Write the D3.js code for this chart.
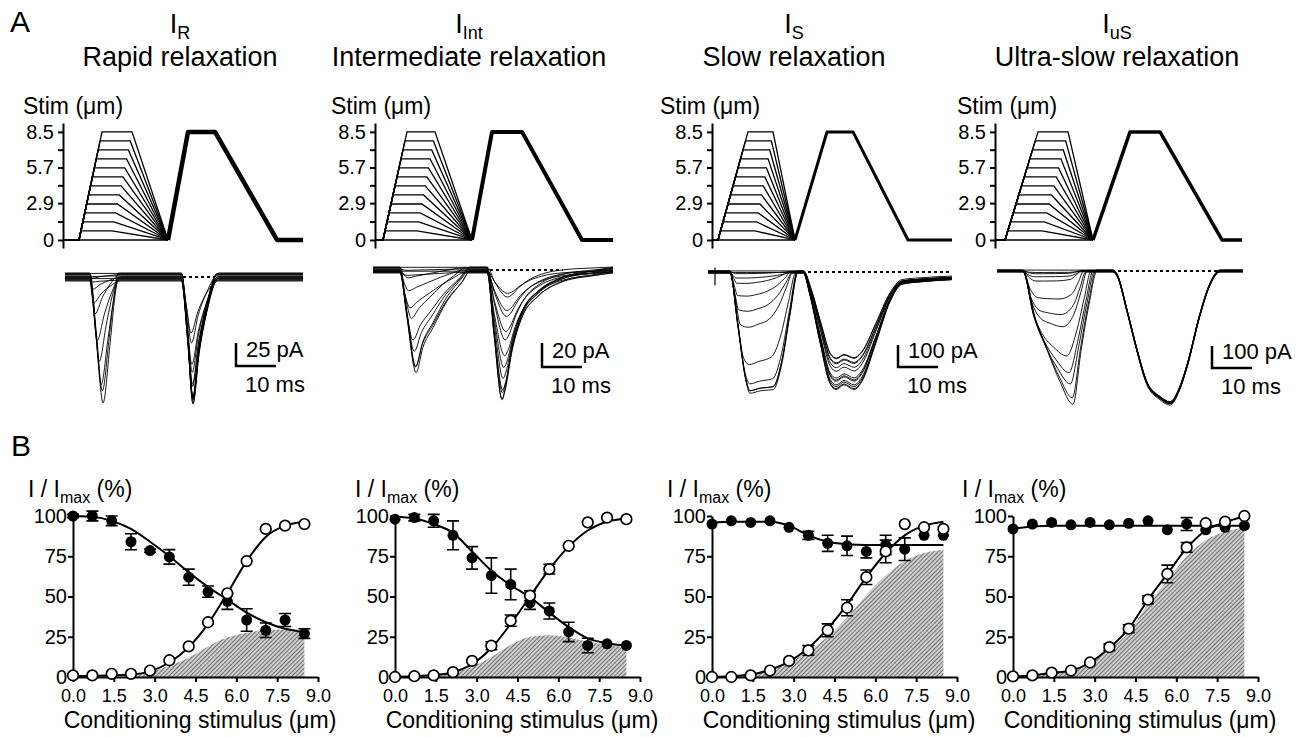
<!DOCTYPE html>
<html><head><meta charset="utf-8">
<script src="https://cdn.jsdelivr.net/npm/d3@7"></script>
<style>
body{margin:0;background:#fff}
svg{display:block}
text{font-family:"Liberation Sans",Arial,Helvetica,sans-serif;fill:#000}
</style>
</head><body>
<svg id="c" width="1303" height="737"></svg>
<script>
// ---------------- DATA ----------------
const stimLevels = [0,0.71,1.42,2.13,2.83,3.54,4.25,4.96,5.67,6.38,7.08,7.79,8.5];
const stimTickValues = [0,1.45,2.9,4.3,5.7,7.1,8.5];
const stimTickLabels = ["0","","2.9","","5.7","","8.5"];
const xTickValues = [0,1.5,3,4.5,6,7.5,9];
const yTickValues = [0,25,50,75,100];
const titles = ["Rapid relaxation","Intermediate relaxation","Slow relaxation","Ultra-slow relaxation"];
const titleSubs = ["R","Int","S","uS"];
const scaleBarPA = [25,20,100,100];
const scaleBarMS = [10,10,10,10];
const traceOffsets = [-0.9,0.4,-0.3,0.8,-0.6,0.1,1,-0.7,0.5,-0.1,0.7,-1,0.2];

// stimulus timing (ms): onset, reach 8.5, plateau end (lowest), plateau end (8.5), back to 0, test at 8.5, test plateau end, test at 0, end
const stimTiming_R   = [4, 9.75, 12.25, 17.25, 26.25, 31.25, 38, 53.5, 60];
const stimTiming_Int = [2, 8, 10.5, 15, 24.25, 29.25, 36.75, 51.75, 59.5];
const stimTiming_S   = [1.5, 9, 10.75, 15.25, 20.75, 28.75, 35.25, 49, 60];
const stimTiming_uS  = [2.5, 10.75, 11.75, 18.25, 24.5, 33.75, 41.25, 56.75, 61.75];

// current traces: peak amplitudes (pA) of conditioning (1) and test (2) responses
const amp1_R   = [0,0,1,2,4,13,24,43,67,92,114,128,136];
const amp2_R   = [136,136,135,134,133,130,127,122,114,104,92,76,60];
const amp1_Int = [0,0,1,2.5,8,17,29,42,57,68,79,83,85];
const amp2_Int = [110,107,103,98,92,81,69,60,50,39,32,25,19];
const amp1_S   = [0,0,9,23,55,109,173,255,418,509,536,545,550];
const amp2_S   = [535,532,523,509,500,491,477,455,432,418,409,400,390];
const amp1_uS  = [0,5,14,23,50,132,200,264,391,468,514,582,605];
const amp2_uS  = [600,598,605,600,603,598,605,600,595,602,596,598,600];

// response shapes [ms, fraction of peak] for small and large responses
const resp1Small_R = [[6.75,0],[6.9,0.5],[7.1,1],[9,0.6],[11.5,0.25],[14.5,0]];
const resp1Large_R = [[6.75,0],[8.4,0.5],[10,1],[11.7,0.55],[12.8,0.2],[13.8,0]];
const resp2Small_R = [[29.6,0],[30.5,0.5],[31.6,1],[33.5,0.62],[36.5,0.22],[39.8,0]];
const resp2Large_R = [[29.6,0],[31.2,0.5],[32.5,1],[34,0.6],[36,0.25],[38.5,0]];

const resp1Small_Int = [[6.25,0],[7,0.6],[8,1],[10,0.85],[13,0.6],[16,0.35],[19,0.12],[21,0]];
const resp1Large_Int = [[6.25,0],[8,0.45],[10.25,1],[12,0.75],[14.5,0.56],[18,0.3],[22,0.1],[23.75,0]];
const resp2Small_Int = [[28,0],[30,0.5],[33.5,1],[34.5,0.95],[36.5,0.7],[39,0.45],[42,0.25],[47,0.1],[55,0.03],[59.5,0]];
const resp2Large_Int = [[28,0],[29.75,0.5],[31.75,1],[32.3,0.95],[34.25,0.61],[36.75,0.35],[40.5,0.2],[47,0.076],[55,0.025],[59.5,0]];

const resp1Small_S = [[4.5,0],[5.2,0.5],[5.9,1],[8.7,1],[11,0.92],[13.5,0.75],[16,0.5],[18,0.2],[19.2,0]];
const resp1Large_S = [[4.5,0],[6.5,0.45],[8.5,0.9],[9.5,1],[12,0.98],[15.3,0.97],[17.5,0.75],[19.5,0.35],[21.5,0]];
const resp2Small_S = [[23.5,0],[25.5,0.2],[28,0.6],[30,0.95],[31.5,1],[33,0.95],[35.5,0.98],[37.5,0.9],[41,0.58],[44.5,0.25],[47.5,0.1],[52,0.08],[60,0.06]];
const resp2Large_S = [[22.75,0],[24.5,0.2],[27,0.6],[29.5,0.95],[31,1],[33,0.96],[35.5,1],[37.5,0.93],[41,0.6],[44.5,0.25],[47.5,0.1],[52,0.08],[60,0.06]];
// stimulus artifact on the slow-relaxation traces: [ms, pA top, pA bottom]
const artifact_S = [0.75, 20, -60];

const resp1Small_uS = [[7,0],[8.5,0.7],[10,1],[12,0.98],[15,0.95],[18.5,0.85],[20,0.45],[21.25,0]];
const resp1Large_uS = [[7,0],[10,0.35],[13,0.59],[16.25,0.83],[19.5,1],[21.5,0.6],[23.5,0.25],[25.5,0]];
const resp2Small_uS = [[29.5,0],[30.5,0.03],[33,0.3],[35.5,0.6],[38,0.85],[41.25,0.96],[43.75,1],[46,0.9],[47.5,0.72],[50.5,0.33],[53,0.1],[55.5,0]];
const resp2Large_uS = [[29.5,0],[30.5,0.03],[33,0.3],[35.5,0.6],[38,0.85],[41.25,0.96],[43.75,1],[46,0.9],[48,0.72],[51.25,0.33],[53.75,0.1],[56.25,0]];

// zero-current dashed reference (ms)
const dashed_R = [30,38], dashed_Int = [28.75,47], dashed_S = [22.5,59.5], dashed_uS = [29.25,55.75];
const traceSpan_R = [0.5,60], traceSpan_Int = [-0.5,59.5], traceSpan_S = [-1,60], traceSpan_uS = [0.5,62];

// panel B: I/Imax (%) at each conditioning stimulus
const filled_R    = [100,100,97,84,78.5,74.6,62,53,47,35.4,29,35.4,27];
const filledErr_R = [1,3,3,5,1,4.5,5,3.5,5,7,4.5,4,3];
const open_R      = [1,1,2,2,4,10.4,19,34,52,72,92,94,95];
const openErr_R   = [0,0,0,0,0,0,0,0,0,0,0,0,0];
const filledFit_R = [100,99.5,97,92,84,75,65,56,48,40,34,30,28];
const openFit_R   = [0.5,0.7,1,1.5,3.5,9,18.5,33,52,72,87,94,96.5];
const hatch_R     = [0,0.3,0.6,1,3,7,12,19,24.5,27.5,29,29.5,27];

const filled_Int    = [98,99,97,88,74,63,57.5,46,41,28,19.6,20.6,19.6];
const filledErr_Int = [0,2,4,9,7,11,9.5,4,5,6,4.5,0,0];
const open_Int      = [0,0.5,1,3,10,19.4,35,50.5,67,81.5,96,99,98];
const openErr_Int   = [0,0,0,0,0,2.5,3.5,3,3,0,0,0,0];
const filledFit_Int = [99.5,98.5,95,89.5,78,66,57,49.5,40,31,24,21,19.5];
const openFit_Int   = [0.2,0.5,1.2,3,8,18,33,50,67,81,91,96.5,98.5];
const hatch_Int     = [0,0.4,1,2.5,6.5,12.5,20,25,26,24.5,22,20,18.5];

const filled_S    = [95,97,96,97,93,88,83,81.5,78,82,79.4,88,88];
const filledErr_S = [0,0,0,0,0,2.5,5,6,4,6,7,0,0];
const open_S      = [0,0,1,4,10,16.5,29,43,62,78,95,93,92];
const openErr_S   = [0,0,0,0,0,3,4,5,4.5,7,0,0,0];
const filledFit_S = [96,96.5,96.5,96.5,94,88,84,82.5,82,82,82,82,82];
const openFit_S   = [0.2,0.5,1.5,4.5,9.5,18,30,45,62,77,88,94,96.5];
const hatch_S     = [0,0.4,1.5,4.5,9,16,25,37,51,63,72,77,79];

const filled_uS    = [92,95,96,94.5,96,94.5,95.5,97,91.4,95,91.4,93,94];
const filledErr_uS = [0,0,0,0,0,0,0,0,0,4,0,0,0];
const open_uS      = [0.4,1,2.7,4,9,18.5,30,48,64,80.5,95.5,96.5,100];
const openErr_uS   = [0,0,0,0,0,2,2.5,2.5,5.5,3,0,0,0];
const filledFit_uS = [92,93.5,94,94,94,94,94,94,94,94,94,94,94];
const openFit_uS   = [0.5,1,2.5,4,9,18,30,48,64,80,91,96,100];
const hatch_uS     = [0.5,1,2.3,3.8,8.5,17,28,45,60,75,85,90,93];

// ---------------- LAYOUT ----------------
const panels = [
 {stim:stimTiming_R, a1:amp1_R, a2:amp2_R, r1s:resp1Small_R, r1l:resp1Large_R, r2s:resp2Small_R, r2l:resp2Large_R, dash:dashed_R, span:traceSpan_R, art:null,
  f:filled_R, fe:filledErr_R, o:open_R, oe:openErr_R, ff:filledFit_R, of:openFit_R, h:hatch_R},
 {stim:stimTiming_Int, a1:amp1_Int, a2:amp2_Int, r1s:resp1Small_Int, r1l:resp1Large_Int, r2s:resp2Small_Int, r2l:resp2Large_Int, dash:dashed_Int, span:traceSpan_Int, art:null,
  f:filled_Int, fe:filledErr_Int, o:open_Int, oe:openErr_Int, ff:filledFit_Int, of:openFit_Int, h:hatch_Int},
 {stim:stimTiming_S, a1:amp1_S, a2:amp2_S, r1s:resp1Small_S, r1l:resp1Large_S, r2s:resp2Small_S, r2l:resp2Large_S, dash:dashed_S, span:traceSpan_S, art:artifact_S,
  f:filled_S, fe:filledErr_S, o:open_S, oe:openErr_S, ff:filledFit_S, of:openFit_S, h:hatch_S},
 {stim:stimTiming_uS, a1:amp1_uS, a2:amp2_uS, r1s:resp1Small_uS, r1l:resp1Large_uS, r2s:resp2Small_uS, r2l:resp2Large_uS, dash:dashed_uS, span:traceSpan_uS, art:null,
  f:filled_uS, fe:filledErr_uS, o:open_uS, oe:openErr_uS, ff:filledFit_uS, of:openFit_uS, h:hatch_uS}
];
const layout = [
 {ax:63,  stimLab:23,  tx:180,  base:277, ppa:0.92, sbT:43.25, sbY:366, yLab:28,  bx0:73,   jit:4,   testW:4.5},
 {ax:375, stimLab:331, tx:469,  base:270, ppa:1.2,  sbT:41.75, sbY:367, yLab:355, bx0:395,  jit:3,   testW:4},
 {ax:712, stimLab:660, tx:794,  base:272, ppa:0.22, sbT:46.5,  sbY:367, yLab:667, bx0:712,  jit:1.2, testW:3},
 {ax:995, stimLab:957, tx:1117, base:271, ppa:0.22, sbT:54.25, sbY:368, yLab:962, bx0:1013, jit:1,   testW:3.5}
];

const svg = d3.select("#c");
const defs = svg.append("defs");
const pat = defs.append("pattern").attr("id","hatch").attr("patternUnits","userSpaceOnUse")
  .attr("width",3).attr("height",3).attr("patternTransform","rotate(45)");
pat.append("rect").attr("width",3).attr("height",3).attr("fill","#d2d2d2");
pat.append("line").attr("x1",0.5).attr("y1",0).attr("x2",0.5).attr("y2",3).attr("stroke","#6e6e6e").attr("stroke-width",1.1);

svg.append("text").attr("x",10).attr("y",32).attr("font-size",30).text("A");
svg.append("text").attr("x",11).attr("y",456).attr("font-size",30).text("B");

function styleAxis(g, fs){
  g.selectAll(".domain").attr("stroke","#000").attr("stroke-width",2);
  g.selectAll(".tick line").attr("stroke","#000").attr("stroke-width",2);
  g.selectAll(".tick text").attr("font-size",fs).attr("fill","#000")
    .style("font-family",'"Liberation Sans",Arial,sans-serif');
}

function lerpTpl(s, l, f){
  return s.map((p,i)=>[p[0]+(l[i][0]-p[0])*f, p[1]+(l[i][1]-p[1])*f]);
}

panels.forEach((P, i) => {
  const L = layout[i];
  const g = svg.append("g");
  // titles
  const t1 = g.append("text").attr("x",L.tx).attr("y",33).attr("text-anchor","middle").attr("font-size",27);
  t1.append("tspan").text("I");
  t1.append("tspan").attr("dy",6).attr("font-size",18).text(titleSubs[i]);
  g.append("text").attr("x",L.tx).attr("y",66).attr("text-anchor","middle").attr("font-size",27).text(titles[i]);
  g.append("text").attr("x",L.stimLab).attr("y",114).attr("font-size",23).text("Stim (μm)");

  // time scale (ms), shared by stimulus & current
  const x = d3.scaleLinear().domain([0,60]).range([L.ax, L.ax+240]);
  const ys = d3.scaleLinear().domain([-0.63,9.2]).range([248,123]);
  const axS = g.append("g").attr("transform",`translate(${L.ax},0)`)
    .call(d3.axisLeft(ys).tickValues(stimTickValues).tickSize(5).tickSizeOuter(0)
      .tickFormat((d,k)=>stimTickLabels[k]));
  styleAxis(axS, 20);
  axS.selectAll(".tick text").attr("dx",-1);

  const T = P.stim;
  const sline = d3.line().x(d=>x(d[0])).y(d=>ys(d[1]));
  stimLevels.forEach((lv, k) => {
    let pts;
    if (k === 0) pts = [[0,0],[T[4],0]];
    else {
      const rise = T[0] + (T[1]-T[0]) * lv/8.5;
      const pe = T[2] + (T[3]-T[2]) * (k-1)/11;
      pts = [[0,0],[T[0],0],[rise,lv],[pe,lv],[T[4],0]];
    }
    g.append("path").attr("d",sline(pts)).attr("fill","none").attr("stroke","#000").attr("stroke-width",1.3);
  });
  g.append("path").attr("d",sline([[T[4],0],[T[5],8.5],[T[6],8.5],[T[7],0],[T[8],0]]))
    .attr("fill","none").attr("stroke","#000").attr("stroke-width",L.testW).attr("stroke-linejoin","round");

  // current traces
  const yc = d3.scaleLinear().domain([0,-100]).range([L.base, L.base + 100*L.ppa]);
  const cline = d3.line().x(d=>x(d[0])).y(d=>d[1]).curve(d3.curveMonotoneX);
  const m1 = d3.max(P.a1), m2 = d3.max(P.a2);
  P.a1.forEach((a1, k) => {
    const a2 = P.a2[k];
    const off = traceOffsets[k]*L.jit;
    const r1 = lerpTpl(P.r1s, P.r1l, a1/m1);
    const r2 = lerpTpl(P.r2s, P.r2l, a2/m2);
    const pts = [[P.span[0], yc(0)+off]];
    r1.forEach(p => pts.push([p[0], yc(-a1*p[1])+off]));
    r2.forEach(p => pts.push([p[0], yc(-a2*p[1])+off]));
    const last = r2[r2.length-1];
    if (P.span[1] > last[0]) pts.push([P.span[1], yc(-a2*last[1])+off]);
    g.append("path").attr("d",cline(pts)).attr("fill","none").attr("stroke","#000").attr("stroke-width",0.9);
  });
  if (P.art) {
    g.append("line").attr("x1",x(P.art[0])).attr("x2",x(P.art[0])).attr("y1",yc(P.art[1])).attr("y2",yc(P.art[2]))
      .attr("stroke","#000").attr("stroke-width",1.2);
  }
  g.append("line").attr("x1",x(P.dash[0])).attr("x2",x(P.dash[1])).attr("y1",yc(0)).attr("y2",yc(0))
    .attr("stroke","#000").attr("stroke-width",2).attr("stroke-dasharray","3,3");

  // scale bar
  const sbx = x(L.sbT);
  const sbTop = L.sbY - scaleBarPA[i]*L.ppa;
  g.append("path").attr("d",`M${sbx},${sbTop}V${L.sbY}H${x(L.sbT+scaleBarMS[i])}`)
    .attr("fill","none").attr("stroke","#000").attr("stroke-width",2.5);
  g.append("text").attr("x",sbx+10).attr("y",L.sbY-9).attr("font-size",22).text(scaleBarPA[i]+" pA");
  g.append("text").attr("x",sbx+9).attr("y",L.sbY+26).attr("font-size",22).text(scaleBarMS[i]+" ms");

  // ---------- Panel B ----------
  const bx = d3.scaleLinear().domain([0,9]).range([L.bx0, L.bx0+245]);
  const by = d3.scaleLinear().domain([0,100]).range([677,516]);
  const gb = svg.append("g");
  const yl = gb.append("text").attr("x",L.yLab).attr("y",497).attr("font-size",23);
  yl.append("tspan").text("I / I");
  yl.append("tspan").attr("dy",6).attr("font-size",16).text("max");
  yl.append("tspan").attr("dy",-6).text(" (%)");

  gb.append("path").datum(P.h.map((v,k)=>[stimLevels[k],v]))
    .attr("d", d3.area().x(d=>bx(d[0])).y0(by(0)).y1(d=>by(d[1])).curve(d3.curveMonotoneX))
    .attr("fill","url(#hatch)");

  const axY = gb.append("g").attr("transform",`translate(${L.bx0},0)`)
    .call(d3.axisLeft(by).tickValues(yTickValues).tickSize(5).tickSizeOuter(0));
  styleAxis(axY, 20);
  axY.selectAll(".tick text").attr("dx",2);
  const axX = gb.append("g").attr("transform",`translate(0,${by(0)})`)
    .call(d3.axisBottom(bx).tickValues(xTickValues).tickSize(5).tickSizeOuter(0).tickFormat(d3.format(".1f")));
  styleAxis(axX, 18);
  axX.selectAll(".tick text").attr("dy","0.95em");
  gb.append("text").attr("x",L.bx0+127).attr("y",728).attr("text-anchor","middle").attr("font-size",23)
    .text("Conditioning stimulus (μm)");

  const fl = d3.line().x((d,k)=>bx(stimLevels[k])).y(d=>by(d)).curve(d3.curveMonotoneX);
  gb.append("path").attr("d",fl(P.ff)).attr("fill","none").attr("stroke","#000").attr("stroke-width",2);
  gb.append("path").attr("d",fl(P.of)).attr("fill","none").attr("stroke","#000").attr("stroke-width",2);

  const eb = (vals, errs) => vals.forEach((v,k) => {
    const e = errs[k]; if (!e) return;
    const cx = bx(stimLevels[k]);
    gb.append("path").attr("d",`M${cx},${by(v-e)}V${by(v+e)}M${cx-6},${by(v-e)}H${cx+6}M${cx-6},${by(v+e)}H${cx+6}`)
      .attr("fill","none").attr("stroke","#000").attr("stroke-width",1.6);
  });
  eb(P.f, P.fe); eb(P.o, P.oe);
  P.f.forEach((v,k)=>gb.append("circle").attr("cx",bx(stimLevels[k])).attr("cy",by(v)).attr("r",5.5).attr("fill","#000"));
  P.o.forEach((v,k)=>gb.append("circle").attr("cx",bx(stimLevels[k])).attr("cy",by(v)).attr("r",5.3)
    .attr("fill","#fff").attr("stroke","#000").attr("stroke-width",1.7));
});
</script>
</body></html>
